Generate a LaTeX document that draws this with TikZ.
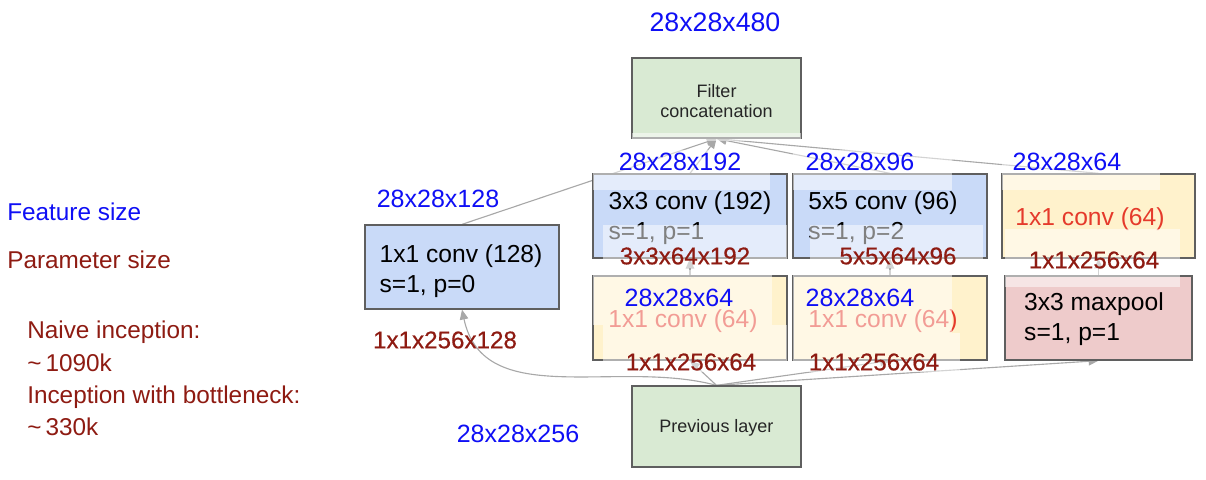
\documentclass[tikz,border=0pt]{standalone}
\usepackage{fontspec}
\setmainfont{Liberation Sans}
\newfontfamily\heavyfont[FakeBold=0.5]{Liberation Sans}
\usetikzlibrary{arrows.meta}
\pgfdeclarelayer{bg}
\pgfsetlayers{bg,main}
\definecolor{fblue}{HTML}{0F0FF5}
\definecolor{pred}{HTML}{8E1B12}
\definecolor{cred}{HTML}{E53A2B}
\definecolor{bxblue}{HTML}{C9DAF8}
\definecolor{bxgreen}{HTML}{D9EAD3}
\definecolor{bxyellow}{HTML}{FFF2CC}
\definecolor{bxpink}{HTML}{EECBCB}
\definecolor{bxedge}{HTML}{5F5F5F}
\definecolor{lnk}{HTML}{A8A8A8}
\begin{document}
\begin{tikzpicture}[x=0.025cm,y=-0.025cm,
  box/.style={draw=bxedge, line width=0.9pt, minimum width=4.85cm, minimum height=2.1cm, inner sep=0pt},
  btext/.style={inner sep=0pt, align=left, font=\fontsize{17.5}{21.3}\selectfont},
  smallbox/.style={draw=bxedge, line width=0.9pt, minimum width=4.225cm, minimum height=2cm, inner sep=0pt},
  stext/.style={inner sep=0pt, align=center, font=\fontsize{12.8}{14.5}\selectfont, text=black!85},
  feat/.style={text=fblue, inner sep=0pt, font=\fontsize{17.8}{20}\selectfont},
  par/.style={text=pred, inner sep=0pt, font=\heavyfont\fontsize{17.2}{20}\selectfont},
  legend/.style={inner sep=0pt, anchor=west, align=left, font=\fontsize{17.3}{22.9}\selectfont},
  conn/.style={draw=lnk, line width=0.8pt, -{Triangle[length=7pt,width=6pt]}},
  wash/.style={fill=white, opacity=0.5}
]
\useasboundingbox (0,0) rectangle (1206,480);

% boxes
\node[smallbox, fill=bxgreen] (filt) at (716.5,98) {};
\node[smallbox, fill=bxgreen, minimum height=2.025cm] (prev) at (716.5,426.5) {};
\node[box, fill=bxblue] (c128) at (462,267) {};
\node[box, fill=bxblue] (c3) at (690,216) {};
\node[box, fill=bxblue] (c5) at (890,216) {};
\node[box, fill=bxyellow, minimum width=4.825cm] (ctr) at (1098.5,216) {};
\node[box, fill=bxyellow] (m1) at (690,318) {};
\node[box, fill=bxyellow] (m2) at (890,318) {};
\node[box, fill=bxpink, minimum width=4.675cm] (pool) at (1098.5,318) {};

% box texts
\node[stext] (filtt) at (716.5,101) {Filter\\concatenation};
\node[stext] (prevt) at (716.5,428) {Previous layer};
\node[btext] (c128t) at (461,271) {1x1 conv (128)\\s=1, p=0};
\node[btext] (c3t) at (690,218.5) {3x3 conv (192)\\s=1, p=1};
\node[btext] (c5t) at (883,218.5) {5x5 conv (96)\\s=1, p=2};
\node[btext, text=cred] (ctrt) at (1090,219) {1x1 conv (64)};
\node[btext, text=cred] (m1t) at (683,321) {1x1 conv (64)};
\node[btext, text=cred] (m2t) at (883,321) {1x1 conv (64)};
\node[btext] (poolt) at (1094,319) {3x3 maxpool\\s=1, p=1};

% connectors
\begin{pgfonlayer}{bg}
\draw[conn] (prev.north) to[out=165,in=-78] (c128.south);
\draw[conn] (prev.north) -- (m1.south);
\draw[conn] (prev.north) -- (m2.south);
\draw[conn] (prev.north) -- (pool.south);
\draw[conn] (m1.north) -- (c3.south);
\draw[conn] (m2.north) -- (c5.south);
\draw[conn] (pool.north) -- (ctr.south);
\draw[conn] (c128.north) -- (filt.south);
\draw[conn] (c3.north) -- (filt.south);
\draw[conn] (c5.north) -- (filt.south);
\draw[conn] (ctr.north) -- (filt.south);
\end{pgfonlayer}

% translucent label backgrounds
\fill[wash] (632,133) rectangle (801,141);
\fill[wash] (593,150) rectangle (770,190);
\fill[wash] (793,150) rectangle (952,190);
\fill[wash] (1002,150) rectangle (1160,190);
\fill[wash] (603,225) rectangle (787,268);
\fill[wash] (810,225) rectangle (983,268);
\fill[wash] (1005,229) rectangle (1180,287);
\fill[wash] (593,270) rectangle (772,325);
\fill[wash] (603,325) rectangle (787,372);
\fill[wash] (793,270) rectangle (952,333);
\fill[wash] (793,333) rectangle (960,372);

% feature size labels
\node[feat, font=\fontsize{19}{22}\selectfont] (f480) at (715,22) {28x28x480};
\node[feat] (f192) at (680,162) {28x28x192};
\node[feat] (f96) at (860,162) {28x28x96};
\node[feat] (f64a) at (1067,162) {28x28x64};
\node[feat] (f128) at (438,199) {28x28x128};
\node[feat] (f64b) at (679,298) {28x28x64};
\node[feat] (f64c) at (860,298) {28x28x64};
\node[feat] (f256) at (518,434) {28x28x256};

% parameter size labels
\node[par] (p192) at (685,256) {3x3x64x192};
\node[par] (p96) at (898,256) {5x5x64x96};
\node[par] (p64a) at (1094,260) {1x1x256x64};
\node[par] (p128) at (445,340) {1x1x256x128};
\node[par] (p64b) at (691,362) {1x1x256x64};
\node[par] (p64c) at (874,362) {1x1x256x64};

% legend
\node[legend, text=fblue] (lf) at (7,212) {Feature size};
\node[legend, text=pred] (lp) at (7,260) {Parameter size};
\node[legend, text=pred] (lt) at (27,378.5) {Naive inception:\\\textasciitilde\,1090k\\Inception with bottleneck:\\\textasciitilde\,330k};
\end{tikzpicture}
\end{document}
